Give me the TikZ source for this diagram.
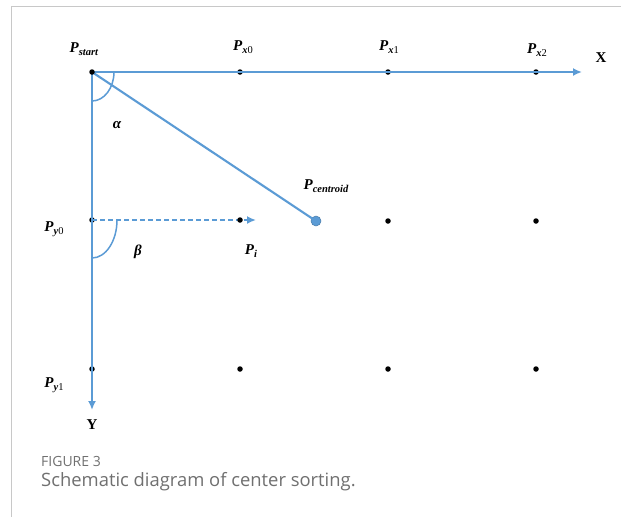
\documentclass[tikz,border=0pt]{standalone}
\usepackage{fontspec}
\setmainfont{Liberation Serif}
\newfontfamily\capfont{Open Sans}
\usetikzlibrary{arrows.meta}
\definecolor{axblue}{HTML}{5B9BD5}
\definecolor{capgrey}{HTML}{707070}
\definecolor{framegrey}{HTML}{C8C8C8}
\newcommand{\subsz}{\fontsize{10.5}{12}\selectfont}
\newcommand{\plbl}[1]{\textbf{\textit{P}}\raisebox{-0.4ex}{\subsz\textbf{\textit{#1}}}}
\newcommand{\plbln}[2]{\textbf{\textit{P}}\raisebox{-0.4ex}{\subsz\textbf{\textit{#1}}#2}}
\tikzset{
  axis/.style={draw=axblue, line width=2.3pt, -{Latex[length=9pt,width=8pt]}},
  conn/.style={draw=axblue, line width=2.1pt},
  dashconn/.style={draw=axblue, line width=2.1pt, dash pattern=on 5pt off 3pt, -{Latex[length=9pt,width=8pt]}},
  anglearc/.style={draw=axblue, line width=1.5pt},
  bdot/.style={circle, fill=black, inner sep=0pt, minimum size=5.5pt},
  lbl/.style={font=\fontsize{15}{17}\selectfont, inner sep=1pt},
  frame/.style={draw=framegrey, line width=0.8pt}
}
\begin{document}
\begin{tikzpicture}[x=1pt,y=-1pt]
\useasboundingbox (0,0) rectangle (621,517);
\fill[white] (0,0) rectangle (621,517);
% frame
\draw[frame] (621,6) -- (11,6) -- (11,517);
% points
\coordinate (O) at (92,72);
\coordinate (Xend) at (582,72);
\coordinate (Yend) at (92,410);
\coordinate (Piend) at (256,220);
\node[bdot] (px0) at (240,72) {};
\node[bdot] (px1) at (388,72) {};
\node[bdot] (px2) at (536,72) {};
\node[bdot] (py0) at (92,220) {};
\node[bdot] (py1) at (92,369) {};
\node[bdot] (d11) at (388,221) {};
\node[bdot] (d12) at (536,221) {};
\node[bdot] (d20) at (240,369) {};
\node[bdot] (d21) at (388,369) {};
\node[bdot] (d22) at (536,369) {};
% axes
\draw[axis] (O) -- (Xend);
\draw[axis] (O) -- (Yend);
% dashed to Pi
\draw[dashconn] (py0.center) -- (Piend);
\node[bdot] (pi) at (240,220) {};
% centroid line
\node[circle, fill=axblue, draw=axblue!80!black, line width=0.5pt, inner sep=0pt, minimum size=10pt] (cent) at (316,221) {};
\draw[conn] (O) -- (cent.center);
\node[bdot] (ps) at (92,72) {};
% angle arcs
\draw[anglearc] (114,72) arc[start angle=0, end angle=90, x radius=22, y radius=29];
\draw[anglearc] (117,220) arc[start angle=0, end angle=90, x radius=25, y radius=38];
% labels
\node[lbl] (lstart) at (84,49) {\plbl{start}};
\node[lbl] (lx0) at (243,47) {\plbln{x}{0}};
\node[lbl] (lx1) at (389,47) {\plbln{x}{1}};
\node[lbl] (lx2) at (537,50) {\plbln{x}{2}};
\node[lbl] (lX) at (601,58) {\textbf{X}};
\node[lbl] (ly0) at (54,229) {\plbln{y}{0}};
\node[lbl] (ly1) at (54,385) {\plbln{y}{1}};
\node[lbl] (lY) at (92,425) {\textbf{Y}};
\node[lbl] (lcent) at (326,186) {\plbl{centroid}};
\node[lbl] (lpi) at (251,251) {\plbl{i}};
\node[lbl] (lalpha) at (117,125) {\textbf{\textit{α}}};
\node[lbl] (lbeta) at (138,252) {\textbf{\textit{β}}};
% caption
\node[anchor=west, inner sep=0pt, text=capgrey, font=\capfont\fontsize{14}{16}\selectfont] (fig) at (41,461) {FIGURE 3};
\node[anchor=west, inner sep=0pt, text=capgrey, font=\capfont\fontsize{18.4}{20}\selectfont] (cap) at (41,482) {Schematic diagram of center sorting.};
\end{tikzpicture}
\end{document}
